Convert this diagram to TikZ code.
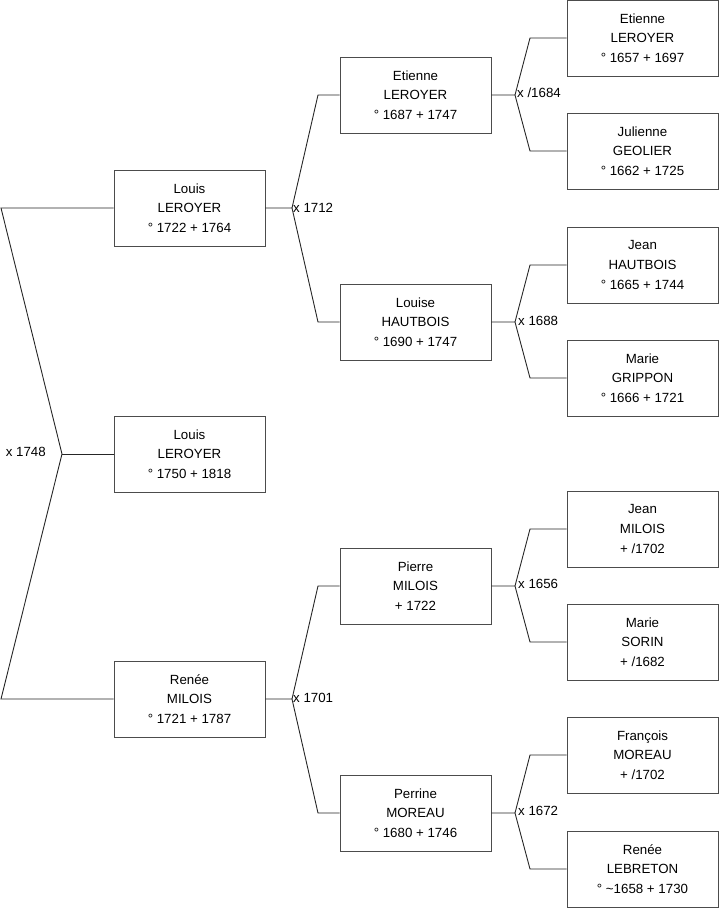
\documentclass[tikz,border=0pt]{standalone}
\usepackage{fontspec}
\setmainfont{Liberation Sans}
\begin{document}
\begin{tikzpicture}[x=1pt,y=-1pt,
  person/.style={draw=black!70, line width=0.9pt, minimum width=151pt, minimum height=76pt, align=center, inner sep=0pt, fill=white, font=\fontsize{13.3}{19.6}\selectfont},
  link/.style={draw=black!85, line width=0.9pt},
  mlabel/.style={anchor=west, inner sep=1pt, font=\fontsize{13.3}{15}\selectfont}]
\useasboundingbox (0,0) rectangle (719,908);
% column 1
\node[person] (louis) at (189.5,208) {Louis\\LEROYER\\° 1722 + 1764};
\node[person] (child) at (189.5,454) {Louis\\LEROYER\\° 1750 + 1818};
\node[person] (renee) at (189.5,699) {Renée\\MILOIS\\° 1721 + 1787};
% column 2
\node[person] (etienne) at (415.5,95) {Etienne\\LEROYER\\° 1687 + 1747};
\node[person] (louise) at (415.5,322) {Louise\\HAUTBOIS\\° 1690 + 1747};
\node[person] (pierre) at (415.5,586) {Pierre\\MILOIS\\+ 1722};
\node[person] (perrine) at (415.5,813) {Perrine\\MOREAU\\° 1680 + 1746};
% column 3
\node[person] (etienne2) at (642.5,38) {Etienne\\LEROYER\\° 1657 + 1697};
\node[person] (julienne) at (642.5,151) {Julienne\\GEOLIER\\° 1662 + 1725};
\node[person] (jeanh) at (642.5,265) {Jean\\HAUTBOIS\\° 1665 + 1744};
\node[person] (marieg) at (642.5,378) {Marie\\GRIPPON\\° 1666 + 1721};
\node[person] (jeanm) at (642.5,529) {Jean\\MILOIS\\+ /1702};
\node[person] (maries) at (642.5,642) {Marie\\SORIN\\+ /1682};
\node[person] (francois) at (642.5,755) {François\\MOREAU\\+ /1702};
\node[person] (reneel) at (642.5,869) {Renée\\LEBRETON\\° \textasciitilde1658 + 1730};
% fork 1 (child)
\coordinate (t0) at (62,454);
\coordinate (a0) at (1,208);
\coordinate (b0) at (1,699);
\draw[link] (t0) -- (a0) -- (louis.west);
\draw[link] (t0) -- (b0) -- (renee.west);
\draw[link] (t0) -- (child.west);
\node[anchor=east, inner sep=1pt, font=\fontsize{13.3}{15}\selectfont] (m0) at (47,452) {x 1748};
% fork Louis
\coordinate (t1) at (292,208);
\coordinate (a1) at (318,95);
\coordinate (b1) at (318,322);
\draw[link] (louis.east) -- (t1) -- (a1) -- (etienne.west);
\draw[link] (t1) -- (b1) -- (louise.west);
\node[mlabel] (m1) at (292,208) {x 1712};
% fork Renee
\coordinate (t2) at (292,699);
\coordinate (a2) at (318,586);
\coordinate (b2) at (318,813);
\draw[link] (renee.east) -- (t2) -- (a2) -- (pierre.west);
\draw[link] (t2) -- (b2) -- (perrine.west);
\node[mlabel] (m2) at (292,698) {x 1701};
% fork Etienne
\coordinate (t3) at (515,95);
\coordinate (a3) at (530,38);
\coordinate (b3) at (530,151);
\draw[link] (etienne.east) -- (t3) -- (a3) -- (etienne2.west);
\draw[link] (t3) -- (b3) -- (julienne.west);
\node[mlabel] (m3) at (516,93) {x /1684};
% fork Louise
\coordinate (t4) at (515,322);
\coordinate (a4) at (530,265);
\coordinate (b4) at (530,378);
\draw[link] (louise.east) -- (t4) -- (a4) -- (jeanh.west);
\draw[link] (t4) -- (b4) -- (marieg.west);
\node[mlabel] (m4) at (517,321) {x 1688};
% fork Pierre
\coordinate (t5) at (515,586);
\coordinate (a5) at (530,529);
\coordinate (b5) at (530,642);
\draw[link] (pierre.east) -- (t5) -- (a5) -- (jeanm.west);
\draw[link] (t5) -- (b5) -- (maries.west);
\node[mlabel] (m5) at (517,584) {x 1656};
% fork Perrine
\coordinate (t6) at (515,813);
\coordinate (a6) at (530,755);
\coordinate (b6) at (530,869);
\draw[link] (perrine.east) -- (t6) -- (a6) -- (francois.west);
\draw[link] (t6) -- (b6) -- (reneel.west);
\node[mlabel] (m6) at (517,811) {x 1672};
\end{tikzpicture}
\end{document}
